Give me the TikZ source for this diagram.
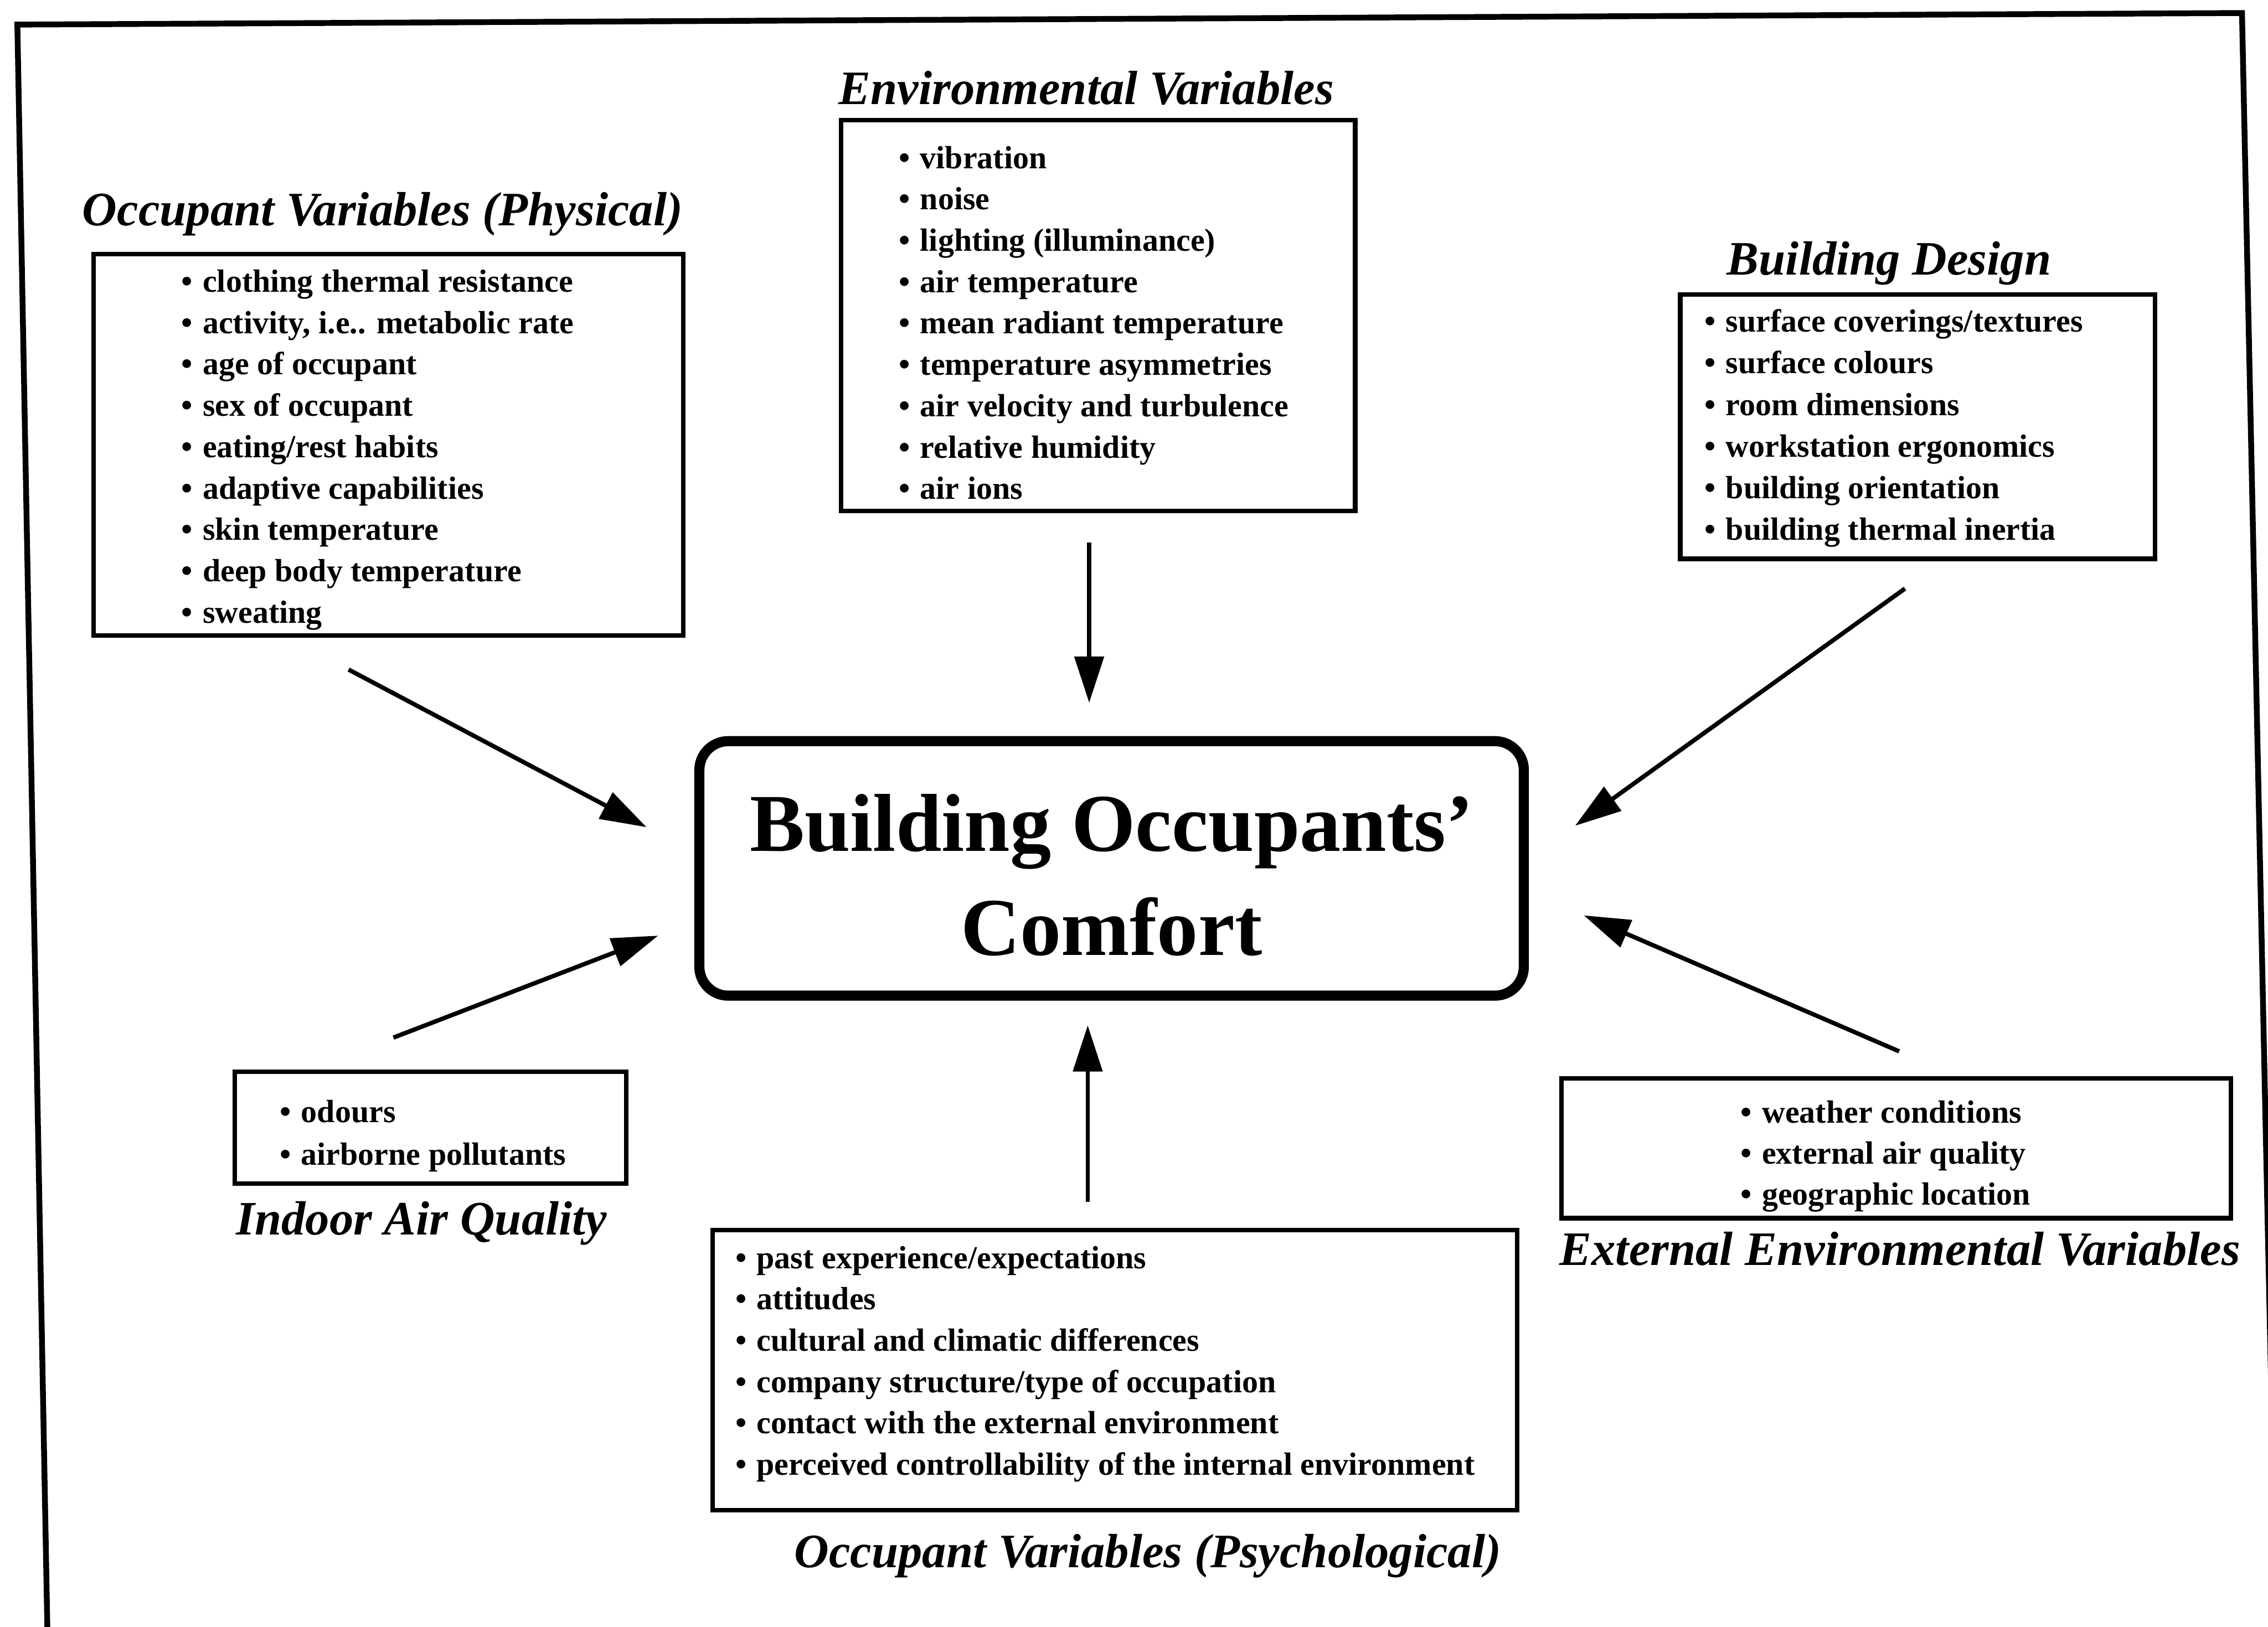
\documentclass[tikz,border=0pt]{standalone}
\usepackage{fontspec}
\setmainfont{Liberation Serif}
\usetikzlibrary{arrows.meta,fit}
% bullet that opens every list line
\newcommand{\bpt}{\strut•\hspace{3.5pt}}
\begin{document}
\begin{tikzpicture}[x=0.5pt,y=-0.5pt,
  frameline/.style={line width=2pt, line join=miter},
  listbox/.style={draw, line width=1.6pt, inner sep=0pt},
  listtext/.style={inner sep=0pt, anchor=north west, align=left,
    font=\bfseries\fontsize{11.1}{14.3}\selectfont},
  heading/.style={inner sep=0pt, anchor=base,
    font=\bfseries\itshape\fontsize{16.6}{20}\selectfont},
  hub/.style={draw, line width=3.5pt, rounded corners=10pt, inner sep=0pt,
    minimum width=285pt, minimum height=88pt, align=center,
    font=\bfseries\fontsize{28.4}{36}\selectfont},
  arr/.style={line width=1.5pt, -{Triangle[length=16pt,width=10pt]}}
]
\useasboundingbox (0,0) rectangle (1568,1125);

% open outer frame (runs off the bottom and right edges)
\begin{scope}
  \clip (0,0) rectangle (1568,1125);
  \draw[frameline] (33,1140) -- (12,17) -- (1550,9) -- (1574,1140);
\end{scope}

% central box
\node[hub] (hub) at (768.5,600.5) {\rule{0pt}{24.5pt}Building Occupants’\\Comfort};

% Occupant Variables (Physical)
\node[heading] (phystitle) at (264.5,156) {Occupant Variables (Physical)};
\node[listbox, fit={(64.6,175.6) (472.4,439.4)}] (physbox) {};
\node[listtext] (physlist) at (125,181.5) {\bpt clothing thermal resistance\\
\bpt activity, i.e.. metabolic rate\\
\bpt age of occupant\\
\bpt sex of occupant\\
\bpt eating/rest habits\\
\bpt adaptive capabilities\\
\bpt skin temperature\\
\bpt deep body temperature\\
\bpt sweating};

% Environmental Variables
\node[heading] (envtitle) at (751,72) {Environmental Variables};
\node[listbox, fit={(581.6,83.1) (936.9,353.4)}] (envbox) {};
\node[listtext] (envlist) at (621,96) {\bpt vibration\\
\bpt noise\\
\bpt lighting (illuminance)\\
\bpt air temperature\\
\bpt mean radiant temperature\\
\bpt temperature asymmetries\\
\bpt air velocity and turbulence\\
\bpt relative humidity\\
\bpt air ions};

% Building Design
\node[heading] (buildtitle) at (1306,190) {Building Design};
\node[listbox, fit={(1161.6,203.6) (1489.9,386.4)}] (buildbox) {};
\node[listtext, font=\bfseries\fontsize{11.1}{14.4}\selectfont] (buildlist) at (1178,209) {\bpt surface coverings/textures\\
\bpt surface colours\\
\bpt room dimensions\\
\bpt workstation ergonomics\\
\bpt building orientation\\
\bpt building thermal inertia};

% Indoor Air Quality
\node[listbox, fit={(162.2,741.1) (433,818.4)}] (iaqbox) {};
\node[listtext, font=\bfseries\fontsize{11.1}{14.8}\selectfont] (iaqlist) at (193,755) {\bpt odours\\
\bpt airborne pollutants};
\node[heading] (iaqtitle) at (291.5,854) {Indoor Air Quality};

% External Environmental Variables
\node[listbox, fit={(1079.6,745.6) (1542.4,842.4)}] (extbox) {};
\node[listtext, font=\bfseries\fontsize{11.1}{14.25}\selectfont] (extlist) at (1203,756) {\bpt weather conditions\\
\bpt external air quality\\
\bpt geographic location};
\node[heading] (exttitle) at (1313.5,875) {External Environmental Variables};

% Occupant Variables (Psychological)
\node[listbox, fit={(492.6,850.6) (1049,1044.4)}] (psybox) {};
\node[listtext] (psylist) at (508,856.6) {\bpt past experience/expectations\\
\bpt attitudes\\
\bpt cultural and climatic differences\\
\bpt company structure/type of occupation\\
\bpt contact with the external environment\\
\bpt perceived controllability of the internal environment};
\node[heading] (psytitle) at (793.5,1084) {Occupant Variables (Psychological)};

% arrow end points
\coordinate (physfrom) at (241,463);
\coordinate (physto) at (447,572);
\coordinate (iaqfrom) at (272,717.5);
\coordinate (iaqto) at (455,647);
\coordinate (envfrom) at (753,375);
\coordinate (envto) at (753,486);
\coordinate (buildfrom) at (1317,407);
\coordinate (buildto) at (1089,571);
\coordinate (extfrom) at (1313,727);
\coordinate (extto) at (1095,633);
\coordinate (psyfrom) at (752,831);
\coordinate (psyto) at (752,709);

% arrows pointing at the central box
\draw[arr] (physfrom) -- (physto);
\draw[arr] (iaqfrom) -- (iaqto);
\draw[arr] (envfrom) -- (envto);
\draw[arr] (buildfrom) -- (buildto);
\draw[arr] (extfrom) -- (extto);
\draw[arr] (psyfrom) -- (psyto);
\end{tikzpicture}
\end{document}
